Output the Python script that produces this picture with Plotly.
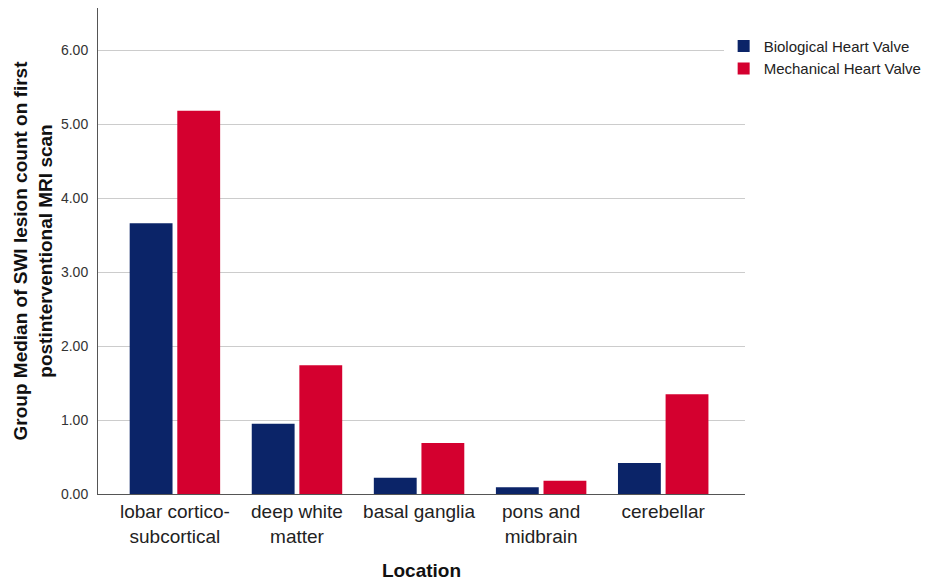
import plotly.graph_objects as go

categories = ["lobar cortico-<br>subcortical", "deep white<br>matter", "basal ganglia", "pons and<br>midbrain", "cerebellar"]
biological = [3.66, 0.95, 0.22, 0.09, 0.42]
mechanical = [5.18, 1.74, 0.69, 0.18, 1.35]
tick_vals = [0, 1, 2, 3, 4, 5, 6]
tick_text = ["0.00", "1.00", "2.00", "3.00", "4.00", "5.00", "6.00"]

fig = go.Figure()
fig.add_trace(go.Bar(x=categories, y=biological, name="Biological Heart Valve",
                     marker=dict(color="#0b2468", line=dict(width=0))))
fig.add_trace(go.Bar(x=categories, y=mechanical, name="Mechanical Heart Valve",
                     marker=dict(color="#d4002f", line=dict(width=0))))

fig.update_layout(
    width=921, height=577,
    margin=dict(l=90, r=184, t=0, b=91),
    paper_bgcolor="white", plot_bgcolor="white",
    barmode="group", bargap=0.22, bargroupgap=0.1,
    font=dict(family="Liberation Sans, Arial", color="#222"),
    legend=dict(x=0.967, y=0.955, xanchor="left", yanchor="top",
                font=dict(size=15, color="#222"), tracegroupgap=0,
                itemwidth=30),
    xaxis=dict(range=[-0.63, 4.67], showline=True, linecolor="#555", linewidth=1,
               ticks="", tickfont=dict(size=19, color="#222"), automargin=False,
               title=dict(text="<b>Location</b>", font=dict(size=19, color="#111"), standoff=18)),
    yaxis=dict(range=[0, 6.57], tickvals=tick_vals, ticktext=tick_text,
               showline=True, linecolor="#555", linewidth=1, ticks="",
               showgrid=True, gridcolor="#cccccc", gridwidth=1, zeroline=False,
               tickfont=dict(size=14, color="#333"), automargin=False,
               ticklabelstandoff=6,
               title=dict(text="<b>Group Median of SWI lesion count on first<br>postinterventional MRI scan</b>",
                          font=dict(size=19, color="#111"), standoff=3)),
)

fig.write_html("out.html")
